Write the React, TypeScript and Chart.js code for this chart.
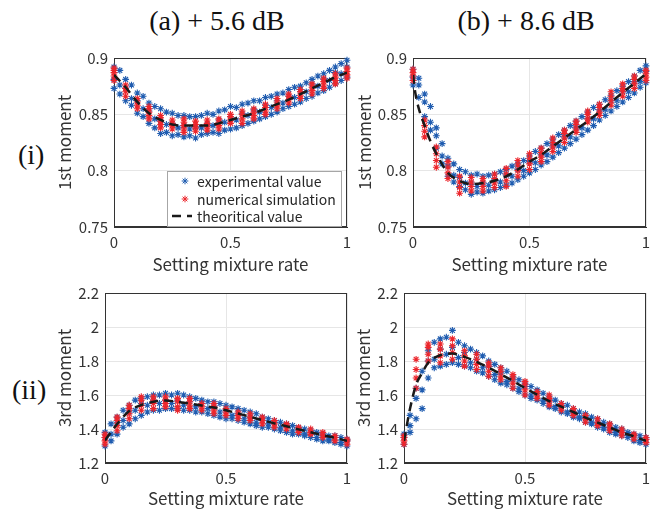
import React, { useEffect, useRef } from 'react';
import { Chart, registerables } from 'chart.js';
Chart.register(...registerables);

// ---------- data ----------
const expX = [0, 0.025, 0.05, 0.075, 0.1, 0.125, 0.15, 0.175, 0.2, 0.225, 0.25, 0.275, 0.3, 0.325, 0.35, 0.375, 0.4, 0.425, 0.45, 0.475, 0.5, 0.525, 0.55, 0.575, 0.6, 0.625, 0.65, 0.675, 0.7, 0.725, 0.75, 0.775, 0.8, 0.825, 0.85, 0.875, 0.9, 0.925, 0.95, 0.975, 1];
const numX = [0, 0.05, 0.1, 0.15, 0.2, 0.25, 0.3, 0.35, 0.4, 0.45, 0.5, 0.55, 0.6, 0.65, 0.7, 0.75, 0.8, 0.85, 0.9, 0.95, 1];

// (a) +5.6 dB, 1st moment
const expA1 = [[.873,.881,.892],[.868,.876,.889],[.862,.873,.881],[.858,.864,.876],[.851,.862,.869],[.848,.855,.866],[.842,.853,.860],[.838,.846,.857],[.833,.844,.855],[.834,.841,.852],[.831,.842,.851],[.832,.838,.849],[.830,.840,.849],[.831,.837,.848],[.829,.839,.848],[.832,.838,.849],[.833,.841,.851],[.834,.840,.850],[.833,.845,.853],[.836,.843,.854],[.837,.848,.857],[.838,.845,.856],[.840,.851,.859],[.842,.849,.860],[.844,.854,.862],[.846,.852,.862],[.848,.858,.865],[.850,.856,.866],[.852,.862,.868],[.855,.860,.869],[.857,.866,.872],[.859,.865,.874],[.861,.870,.875],[.864,.870,.878],[.866,.876,.881],[.869,.875,.884],[.871,.881,.886],[.874,.880,.889],[.877,.887,.892],[.880,.886,.895],[.883,.892,.898]];
const numA1 = [[.880,.884,.887,.889,.891],[.866,.870,.873,.876],[.855,.858,.861,.864],[.846,.849,.852,.855,.857],[.838,.841,.844,.847,.849],[.837,.840,.842,.845],[.834,.837,.840,.843,.846],[.835,.838,.841,.844],[.836,.839,.842,.845],[.837,.840,.843,.846],[.842,.845,.848,.850],[.842,.846,.850,.853],[.846,.849,.852,.855],[.850,.853,.856,.859],[.855,.858,.861,.864],[.860,.863,.866,.868],[.864,.867,.870,.872],[.868,.871,.874,.877],[.873,.876,.879,.882],[.877,.880,.883,.886],[.882,.885,.888,.891]];
const thA1X = [0, 0.05, 0.1, 0.15, 0.2, 0.25, 0.3, 0.35, 0.4, 0.45, 0.5, 0.55, 0.6, 0.65, 0.7, 0.75, 0.8, 0.85, 0.9, 0.95, 1];
const thA1Y = [.885,.874,.861,.851,.845,.841,.840,.840,.840,.842,.845,.848,.851,.855,.859,.863,.868,.873,.878,.883,.887];

// (b) +8.6 dB, 1st moment
const expB1 = [[.876,.883,.890],[.865,.876,.882],[.848,.861,.868],[.836,.843,.857],[.820,.831,.838],[.806,.813,.824],[.795,.804,.811],[.790,.796,.806],[.786,.794,.801],[.783,.789,.799],[.779,.789,.796],[.781,.786,.797],[.780,.789,.795],[.782,.787,.796],[.783,.792,.797],[.785,.790,.799],[.787,.796,.801],[.789,.795,.804],[.792,.801,.806],[.795,.800,.809],[.798,.808,.813],[.801,.807,.817],[.805,.814,.820],[.808,.814,.824],[.812,.822,.828],[.816,.822,.832],[.820,.830,.836],[.824,.830,.840],[.828,.838,.844],[.832,.838,.848],[.836,.846,.852],[.840,.846,.856],[.845,.854,.859],[.849,.854,.863],[.853,.862,.867],[.857,.862,.871],[.861,.870,.875],[.865,.870,.879],[.869,.879,.884],[.874,.879,.889],[.878,.888,.893]];
const numB1 = [[.880,.884,.887,.890],[.830,.835,.840,.845],[.803,.809,.815,.821],[.793,.798,.803,.808],[.780,.785,.790,.795],[.782,.786,.790,.794],[.782,.786,.790,.793],[.785,.789,.793,.797],[.786,.791,.797,.802],[.795,.800,.805,.809],[.801,.806,.811,.815],[.808,.812,.816,.820],[.817,.821,.825,.829],[.825,.829,.833,.836],[.834,.837,.841,.844],[.843,.846,.850,.853],[.849,.852,.856,.859],[.858,.862,.866,.870],[.866,.870,.873,.877],[.873,.877,.881,.884],[.880,.883,.886,.889]];
const thB1X = [0, 0.01, 0.025, 0.05, 0.075, 0.1, 0.15, 0.2, 0.25, 0.3, 0.35, 0.4, 0.45, 0.5, 0.55, 0.6, 0.65, 0.7, 0.75, 0.8, 0.85, 0.9, 0.95, 1];
const thB1Y = [.885,.869,.855,.840,.826,.815,.798,.791,.788,.789,.791,.795,.801,.808,.814,.8215,.829,.8366,.844,.852,.8607,.8695,.8776,.886];

// (a) +5.6 dB, 3rd moment
const expA2 = [[1.30,1.35,1.38],[1.33,1.37,1.43],[1.37,1.44,1.47],[1.41,1.45,1.51],[1.43,1.50,1.54],[1.46,1.51,1.57],[1.48,1.55,1.58],[1.50,1.54,1.59],[1.51,1.57,1.60],[1.51,1.55,1.60],[1.52,1.57,1.61],[1.52,1.55,1.60],[1.52,1.57,1.61],[1.51,1.54,1.60],[1.51,1.56,1.59],[1.50,1.53,1.58],[1.50,1.55,1.57],[1.49,1.52,1.56],[1.48,1.53,1.56],[1.47,1.50,1.55],[1.46,1.51,1.54],[1.46,1.48,1.53],[1.45,1.49,1.52],[1.44,1.46,1.51],[1.43,1.47,1.50],[1.42,1.44,1.49],[1.41,1.45,1.47],[1.41,1.43,1.46],[1.40,1.44,1.45],[1.39,1.41,1.44],[1.38,1.42,1.43],[1.37,1.39,1.42],[1.37,1.40,1.41],[1.36,1.37,1.40],[1.35,1.38,1.39],[1.34,1.35,1.38],[1.33,1.36,1.37],[1.33,1.34,1.36],[1.32,1.35,1.36],[1.31,1.32,1.35],[1.30,1.33,1.34]];
const numA2 = [[1.31,1.33,1.35,1.37],[1.39,1.42,1.45,1.47],[1.46,1.49,1.52,1.54],[1.51,1.54,1.57,1.59],[1.52,1.55,1.57,1.59],[1.53,1.55,1.57,1.59],[1.51,1.53,1.56,1.58],[1.52,1.54,1.56,1.58],[1.51,1.53,1.55],[1.49,1.51,1.53,1.55],[1.48,1.50,1.52],[1.46,1.48,1.50],[1.45,1.47,1.49],[1.43,1.45,1.47],[1.41,1.43,1.45],[1.40,1.42,1.43],[1.38,1.40,1.41],[1.37,1.38,1.40],[1.35,1.36,1.38],[1.33,1.35,1.36],[1.31,1.33,1.34]];
const thA2X = [0, 0.05, 0.1, 0.15, 0.2, 0.25, 0.3, 0.35, 0.4, 0.45, 0.5, 0.55, 0.6, 0.65, 0.7, 0.75, 0.8, 0.85, 0.9, 0.95, 1];
const thA2Y = [1.333,1.429,1.506,1.541,1.560,1.568,1.560,1.549,1.538,1.526,1.510,1.491,1.472,1.452,1.433,1.416,1.398,1.381,1.363,1.348,1.330];

// (b) +8.6 dB, 3rd moment
const expB2 = [[1.31,1.35,1.37],[1.38,1.42,1.48],[1.46,1.58,1.64],[1.52,1.63,1.74],[1.70,1.80,1.86],[1.76,1.81,1.91],[1.77,1.87,1.93],[1.78,1.84,1.94],[1.79,1.88,1.98],[1.78,1.82,1.91],[1.77,1.85,1.89],[1.76,1.79,1.87],[1.74,1.81,1.85],[1.73,1.76,1.83],[1.71,1.77,1.80],[1.69,1.72,1.78],[1.67,1.73,1.76],[1.66,1.68,1.74],[1.64,1.69,1.71],[1.62,1.64,1.69],[1.60,1.65,1.67],[1.58,1.60,1.65],[1.57,1.61,1.63],[1.55,1.57,1.61],[1.53,1.57,1.59],[1.52,1.53,1.57],[1.50,1.54,1.55],[1.49,1.50,1.54],[1.47,1.50,1.52],[1.46,1.47,1.50],[1.44,1.47,1.49],[1.43,1.44,1.47],[1.41,1.44,1.46],[1.40,1.41,1.44],[1.38,1.41,1.43],[1.37,1.38,1.41],[1.36,1.39,1.40],[1.35,1.36,1.38],[1.33,1.36,1.37],[1.32,1.33,1.36],[1.31,1.34,1.35]];
const numB2 = [[1.31,1.33,1.35,1.36],[1.64,1.70,1.75,1.81],[1.80,1.84,1.88,1.90],[1.79,1.83,1.87,1.90],[1.81,1.85,1.89,1.93],[1.77,1.80,1.83,1.86],[1.75,1.78,1.81,1.84],[1.71,1.74,1.77,1.79],[1.69,1.71,1.74,1.76],[1.64,1.67,1.70,1.72],[1.60,1.63,1.66,1.68],[1.58,1.60,1.62],[1.54,1.56,1.58,1.60],[1.51,1.53,1.55],[1.48,1.50,1.52],[1.44,1.46,1.48],[1.42,1.44,1.46],[1.39,1.41,1.43],[1.36,1.38,1.40],[1.34,1.36,1.37],[1.32,1.34,1.35]];
const thB2X = [0, 0.025, 0.05, 0.075, 0.1, 0.15, 0.2, 0.25, 0.3, 0.35, 0.4, 0.45, 0.5, 0.55, 0.6, 0.65, 0.7, 0.75, 0.8, 0.85, 0.9, 0.95, 1];
const thB2Y = [1.33,1.52,1.66,1.73,1.79,1.834,1.844,1.824,1.795,1.76,1.722,1.683,1.641,1.602,1.564,1.531,1.5,1.467,1.438,1.409,1.38,1.357,1.33];

const xTicks = [0, 0.5, 1];
const legendLabels = ['experimental value', 'numerical simulation', 'theoritical value'];

// ---------- styles ----------
const FONT = "'Noto Sans CJK JP', 'Noto Sans', sans-serif";
const TXT = '#333333';
const BLUE = '#1f5cb0';
const RED = '#ec262c';
const AX_W = 62;
const AX_H = 50;
const PAD_T = 12;
const PAD_R = 14;
const TITLE_SIZE = 17;
const TITLE_HALF = (TITLE_SIZE * 1.2) / 2;

function spread(xs: number[], rows: number[][]) {
  const pts: { x: number; y: number }[] = [];
  xs.forEach((x, i) => (rows[i] || []).forEach((y) => pts.push({ x, y })));
  return pts;
}
function zip(xs: number[], ys: number[]) {
  return xs.map((x, i) => ({ x, y: ys[i] }));
}

const boxPlugin = {
  id: 'box',
  beforeDatasetsDraw(chart: any) {
    const { ctx, chartArea: a } = chart;
    ctx.save();
    ctx.strokeStyle = '#333333';
    ctx.lineWidth = 1;
    ctx.strokeRect(Math.round(a.left) + 0.5, Math.round(a.top) + 0.5, Math.round(a.right - a.left) - 1, Math.round(a.bottom - a.top) - 1);
    ctx.restore();
  },
};

const legendPlugin = {
  id: 'innerLegend',
  afterDatasetsDraw(chart: any, _args: any, opts: any) {
    if (!opts || !opts.show) return;
    const { ctx, chartArea: a } = chart;
    const bx = a.left + 53, by = a.top + 113, bw = 174, bh = 55;
    ctx.save();
    ctx.fillStyle = '#ffffff';
    ctx.fillRect(bx, by, bw, bh);
    ctx.strokeStyle = '#a6a6a6';
    ctx.lineWidth = 1;
    ctx.strokeRect(bx + 0.5, by + 0.5, bw, bh);
    const rows = [10, 28, 45];
    const ds = chart.data.datasets;
    ctx.font = `14px ${FONT}`;
    ctx.textBaseline = 'middle';
    ctx.textAlign = 'left';
    rows.forEach((ry, i) => {
      const y = by + ry;
      const d = ds[i];
      if (i < 2) {
        ctx.strokeStyle = d.borderColor;
        ctx.lineWidth = 1;
        const cx = bx + 18, r = 3.3;
        ctx.beginPath();
        ctx.moveTo(cx - r, y); ctx.lineTo(cx + r, y);
        ctx.moveTo(cx, y - r); ctx.lineTo(cx, y + r);
        const q = r * 0.707;
        ctx.moveTo(cx - q, y - q); ctx.lineTo(cx + q, y + q);
        ctx.moveTo(cx - q, y + q); ctx.lineTo(cx + q, y - q);
        ctx.stroke();
      } else {
        ctx.strokeStyle = d.borderColor;
        ctx.lineWidth = 2.5;
        ctx.setLineDash([9, 6]);
        ctx.beginPath();
        ctx.moveTo(bx + 5, y); ctx.lineTo(bx + 25, y);
        ctx.stroke();
        ctx.setLineDash([]);
      }
      ctx.fillStyle = '#262626';
      ctx.fillText(d.label, bx + 30, y + 1);
    });
    ctx.restore();
  },
};

type PanelProps = {
  left: number; top: number; w: number; h: number;
  yTitle: string; yMin: number; yMax: number; yStep: number;
  titleCx: number; xTitleCy: number;
  exp: { x: number; y: number }[]; num: { x: number; y: number }[]; th: { x: number; y: number }[];
  legend?: boolean;
};

function Panel(p: PanelProps) {
  const ref = useRef<HTMLCanvasElement>(null);
  const cl = p.left - AX_W;
  const ct = p.top - PAD_T;
  const cw = AX_W + p.w + PAD_R;
  const ch = PAD_T + p.h + AX_H;
  useEffect(() => {
    if (!ref.current) return;
    const fmt = (v: any) => String(Number(Number(v).toFixed(3)));
    const chart = new Chart(ref.current, {
      type: 'scatter',
      data: {
        datasets: [
          { label: legendLabels[0], data: p.exp, pointStyle: 'star', pointRadius: 3.4, borderColor: BLUE, backgroundColor: BLUE, pointBorderWidth: 1.1, order: 3, clip: 8 } as any,
          { label: legendLabels[1], data: p.num, pointStyle: 'star', pointRadius: 3.4, borderColor: RED, backgroundColor: RED, pointBorderWidth: 1.1, order: 2, clip: 8 } as any,
          { label: legendLabels[2], type: 'line', data: p.th, borderColor: '#1a1a1a', borderWidth: 2.5, borderDash: [9, 6], pointRadius: 0, showLine: true, cubicInterpolationMode: 'monotone', fill: false, order: 1 } as any,
        ],
      },
      options: {
        animation: false,
        responsive: false,
        maintainAspectRatio: false,
        events: [],
        layout: { padding: { left: 0, top: PAD_T, right: PAD_R, bottom: 0 } },
        plugins: { legend: { display: false }, tooltip: { enabled: false }, innerLegend: { show: !!p.legend } } as any,
        scales: {
          x: {
            type: 'linear', min: 0, max: 1,
            afterBuildTicks: (s: any) => { s.ticks = xTicks.map((v) => ({ value: v })); },
            afterFit: (s: any) => { s.height = AX_H; },
            ticks: { padding: 6, color: TXT, font: { family: FONT, size: 15 }, callback: fmt, maxRotation: 0 },
            grid: { color: '#e6e6e6', drawTicks: false },
            border: { color: '#333333' },
            title: { display: true, text: 'Setting mixture rate', color: TXT, font: { family: FONT, size: TITLE_SIZE }, padding: { top: 0, bottom: p.top + p.h + AX_H - TITLE_HALF - p.xTitleCy } },
          },
          y: {
            type: 'linear', min: p.yMin, max: p.yMax,
            afterFit: (s: any) => { s.width = AX_W; },
            ticks: { stepSize: p.yStep, padding: 6, color: TXT, font: { family: FONT, size: 15 }, callback: fmt },
            grid: { color: '#e6e6e6', drawTicks: false },
            border: { color: '#333333' },
            title: { display: true, text: p.yTitle, color: TXT, font: { family: FONT, size: TITLE_SIZE }, padding: { top: p.titleCx - cl - TITLE_HALF, bottom: 0 } },
          },
        },
      } as any,
      plugins: [boxPlugin, legendPlugin],
    });
    return () => chart.destroy();
  }, []);
  return (
    <canvas
      ref={ref}
      width={cw}
      height={ch}
      style={{ position: 'absolute', left: cl, top: ct, width: cw, height: ch }}
    />
  );
}

const serif: React.CSSProperties = {
  position: 'absolute',
  fontFamily: "'Liberation Serif', 'Times New Roman', serif",
  fontSize: 28,
  lineHeight: '28px',
  color: '#111',
  whiteSpace: 'nowrap',
};

export default function App() {
  return (
    <div style={{ position: 'absolute', left: 0, top: 0, width: 655, height: 510, overflow: 'hidden', background: '#fff' }}>
      <div style={{ ...serif, left: 117, top: 7, width: 200, textAlign: 'center' }}>(a) + 5.6 dB</div>
      <div style={{ ...serif, left: 426, top: 7, width: 200, textAlign: 'center' }}>(b) + 8.6 dB</div>
      <div style={{ ...serif, left: 18, top: 141 }}>(i)</div>
      <div style={{ ...serif, left: 12, top: 376 }}>(ii)</div>
      <Panel left={114} top={55} w={233} h={172} yTitle="1st moment" yMin={0.75} yMax={0.9} yStep={0.05} titleCx={65} xTitleCy={265}
        exp={spread(expX, expA1)} num={spread(numX, numA1)} th={zip(thA1X, thA1Y)} legend />
      <Panel left={413} top={55} w={233} h={172} yTitle="1st moment" yMin={0.75} yMax={0.9} yStep={0.05} titleCx={365} xTitleCy={265}
        exp={spread(expX, expB1)} num={spread(numX, numB1)} th={zip(thB1X, thB1Y)} />
      <Panel left={105} top={290} w={242} h={173} yTitle="3rd moment" yMin={1.2} yMax={2.2} yStep={0.2} titleCx={65} xTitleCy={499}
        exp={spread(expX, expA2)} num={spread(numX, numA2)} th={zip(thA2X, thA2Y)} />
      <Panel left={404} top={290} w={242} h={173} yTitle="3rd moment" yMin={1.2} yMax={2.2} yStep={0.2} titleCx={364} xTitleCy={499}
        exp={spread(expX, expB2)} num={spread(numX, numB2)} th={zip(thB2X, thB2Y)} />
    </div>
  );
}
